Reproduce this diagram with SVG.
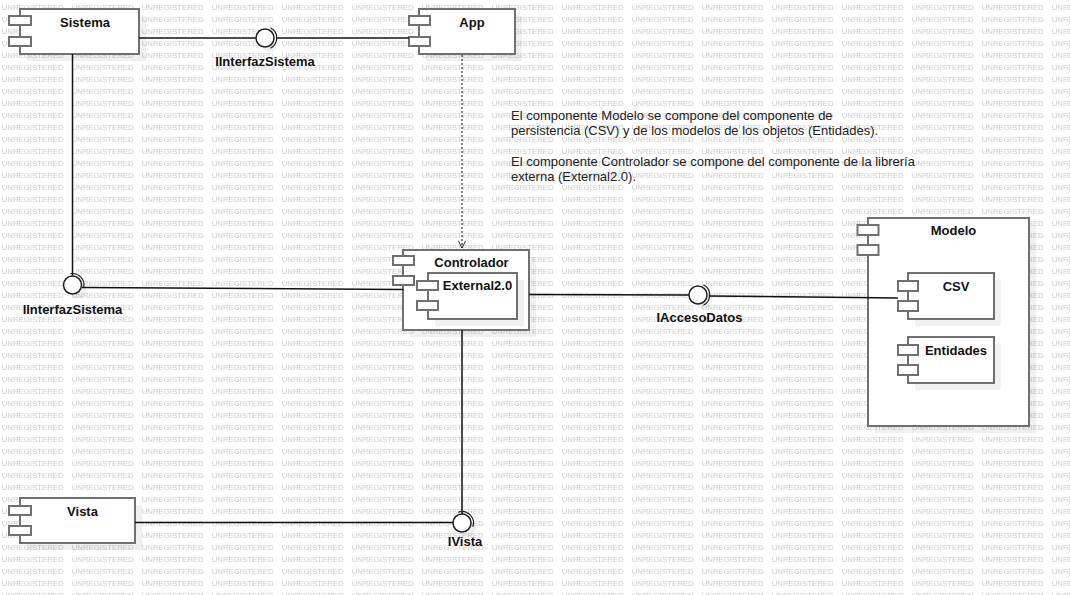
<svg xmlns="http://www.w3.org/2000/svg" width="1070" height="595" viewBox="0 0 1070 595">
<defs>
<pattern id="wm" x="0" y="0" width="70" height="12" patternUnits="userSpaceOnUse">
<text x="1.7" y="9.7" font-family="Liberation Sans, Arial, sans-serif" font-size="8" fill="#cccccc" textLength="62" lengthAdjust="spacingAndGlyphs">UNREGISTERED</text>
</pattern>
<marker id="open" viewBox="0 0 10 10" refX="10" refY="5" markerWidth="8" markerHeight="8" markerUnits="userSpaceOnUse" orient="auto">
<path d="M1,0.5 L10,5 L1,9.5" fill="none" stroke="#222" stroke-width="1.2"/>
</marker>
<style>
.box{fill:#fff;stroke:#707070;stroke-width:2}
.port{fill:#fff;stroke:#707070;stroke-width:2}
.sh{fill:#000;fill-opacity:0.06}
.title{font-family:"Liberation Sans",Arial,sans-serif;font-size:13px;font-weight:bold;fill:#111;text-anchor:middle}
.lbl{font-family:"Liberation Sans",Arial,sans-serif;font-size:13px;font-weight:bold;fill:#111;text-anchor:middle}
.note{font-family:"Liberation Sans",Arial,sans-serif;font-size:13px;fill:#222}
.ln{fill:none;stroke:#111;stroke-width:1.5}
.dot{fill:none;stroke:#333;stroke-width:1.2;stroke-dasharray:2 2}
.ball{fill:#fff;stroke:#222;stroke-width:1.5}
.sock{fill:none;stroke:#222;stroke-width:1.2}
</style>
</defs>
<rect width="1070" height="595" fill="#fff"/>
<rect width="1070" height="595" fill="url(#wm)"/>

<g id="Sistema">
<rect class="sh" x="27" y="16" width="119" height="45"/>
<rect class="box" x="20" y="9" width="119" height="45"/>
<rect class="port" x="9" y="16" width="22" height="9"/>
<rect class="port" x="9" y="37" width="22" height="9"/>
<text class="title" x="85" y="27">Sistema</text>
</g>

<g id="App">
<rect class="sh" x="426" y="16" width="96" height="45"/>
<rect class="box" x="419" y="9" width="96" height="45"/>
<rect class="port" x="409" y="16" width="21" height="9"/>
<rect class="port" x="409" y="37" width="21" height="9"/>
<text class="title" x="472" y="27">App</text>
</g>

<g id="Controlador">
<rect class="sh" x="410" y="257" width="126" height="80"/>
<rect class="box" x="403" y="250" width="126" height="80"/>
<rect class="port" x="393" y="256" width="21" height="9"/>
<rect class="port" x="393" y="276" width="21" height="9"/>
<text class="title" x="471.5" y="267">Controlador</text>
<g id="External2.0">
<rect class="sh" x="435" y="280" width="89" height="46"/>
<rect class="box" x="428" y="273" width="89" height="46"/>
<rect class="port" x="417" y="281" width="21" height="9"/>
<rect class="port" x="417" y="301" width="21" height="9"/>
<text class="title" x="477.5" y="290">External2.0</text>
</g>
</g>

<g id="Vista">
<rect class="sh" x="27" y="505" width="115" height="45"/>
<rect class="box" x="20" y="498" width="115" height="45"/>
<rect class="port" x="9" y="506" width="22" height="9"/>
<rect class="port" x="9" y="526" width="22" height="9"/>
<text class="title" x="82.5" y="516">Vista</text>
</g>

<g id="Modelo">
<rect class="sh" x="875" y="225" width="161" height="208"/>
<rect class="box" x="868" y="218" width="161" height="208"/>
<rect class="port" x="857.5" y="225" width="21" height="10"/>
<rect class="port" x="857.5" y="245" width="21" height="10"/>
<text class="title" x="953.5" y="235">Modelo</text>
<g id="CSV">
<rect class="sh" x="915" y="280" width="86" height="46"/>
<rect class="box" x="908" y="273" width="86" height="46"/>
<rect class="port" x="898" y="281" width="20" height="10"/>
<rect class="port" x="898" y="301" width="20" height="10"/>
<text class="title" x="956" y="291">CSV</text>
</g>
<g id="Entidades">
<rect class="sh" x="915" y="344" width="86" height="46"/>
<rect class="box" x="908" y="337" width="86" height="46"/>
<rect class="port" x="898" y="345" width="20" height="10"/>
<rect class="port" x="898" y="365" width="20" height="10"/>
<text class="title" x="956" y="355">Entidades</text>
</g>
</g>

<g id="connectors">
<path class="ln" d="M139,38 L256,38"/>
<path class="ln" d="M276,38 L409,38"/>
<path class="ln" d="M72.5,54 L72.5,276"/>
<path class="ln" d="M82,287.5 L403,289.5"/>
<path class="dot" d="M462,55 L462,248" marker-end="url(#open)"/>
<path class="ln" d="M529,294.5 L689,295"/>
<path class="ln" d="M709,296 L898,298"/>
<path class="ln" d="M462,330 L462,514"/>
<path class="ln" d="M135,522.5 L453,522.5"/>
</g>

<g id="IInterfazSistema_top">
<circle class="sh" cx="270" cy="43" r="9"/>
<circle class="ball" cx="265" cy="38" r="9"/>
<path class="sock" d="M270.5,27.8 A11.5,11.5 0 0 1 270.5,48.2"/>
<text class="lbl" x="265" y="66">IInterfazSistema</text>
</g>

<g id="IInterfazSistema_bottom">
<circle class="sh" cx="77" cy="290" r="9"/>
<circle class="ball" cx="72.5" cy="285" r="9"/>
<path class="sock" d="M70.5,273.7 A11.5,11.5 0 0 1 83.8,287"/>
<text class="lbl" x="72.5" y="314">IInterfazSistema</text>
</g>

<g id="IAccesoDatos">
<circle class="sh" cx="703" cy="300" r="9"/>
<circle class="ball" cx="698" cy="295" r="9"/>
<path class="sock" d="M703.5,284.8 A11.5,11.5 0 0 1 703.5,305.2"/>
<text class="lbl" x="699.5" y="322">IAccesoDatos</text>
</g>

<g id="IVista">
<circle class="sh" cx="467" cy="528" r="9"/>
<circle class="ball" cx="462" cy="523" r="9"/>
<path class="sock" d="M458.1,512.2 A11.5,11.5 0 0 1 472.8,526.9"/>
<text class="lbl" x="465" y="546">IVista</text>
</g>

<g id="note">
<text class="note" x="511" y="120">El componente Modelo se compone del componente de</text>
<text class="note" x="511" y="135">persistencia (CSV) y de los modelos de los objetos (Entidades).</text>
<text class="note" x="511" y="166">El componente Controlador se compone del componente de la librería</text>
<text class="note" x="511" y="181">externa (External2.0).</text>
</g>
</svg>
